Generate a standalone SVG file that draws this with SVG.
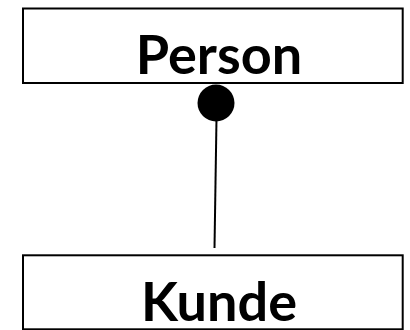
<svg xmlns="http://www.w3.org/2000/svg" width="410" height="330" viewBox="0 0 410 330">
<style>
.box{fill:#fff;stroke:#000;stroke-width:2}
.lbl{font-family:Lato,"Liberation Sans",sans-serif;font-weight:bold;font-size:54px;fill:#000;text-anchor:middle}
.conn{stroke:#000;stroke-width:2;fill:none}
</style>
<rect width="410" height="330" fill="#fff"/>
<g id="connectors">
<line class="conn" x1="216.5" y1="118" x2="214.5" y2="248"/>
<circle cx="216" cy="103" r="18.5" fill="#000"/>
</g>
<g id="person">
<rect class="box" x="23" y="8.5" width="379.7" height="74.5"/>
<text class="lbl" x="219" y="74">Person</text>
</g>
<g id="kunde">
<rect class="box" x="23" y="255.3" width="379.7" height="74"/>
<text class="lbl" x="219" y="321">Kunde</text>
</g>
</svg>
